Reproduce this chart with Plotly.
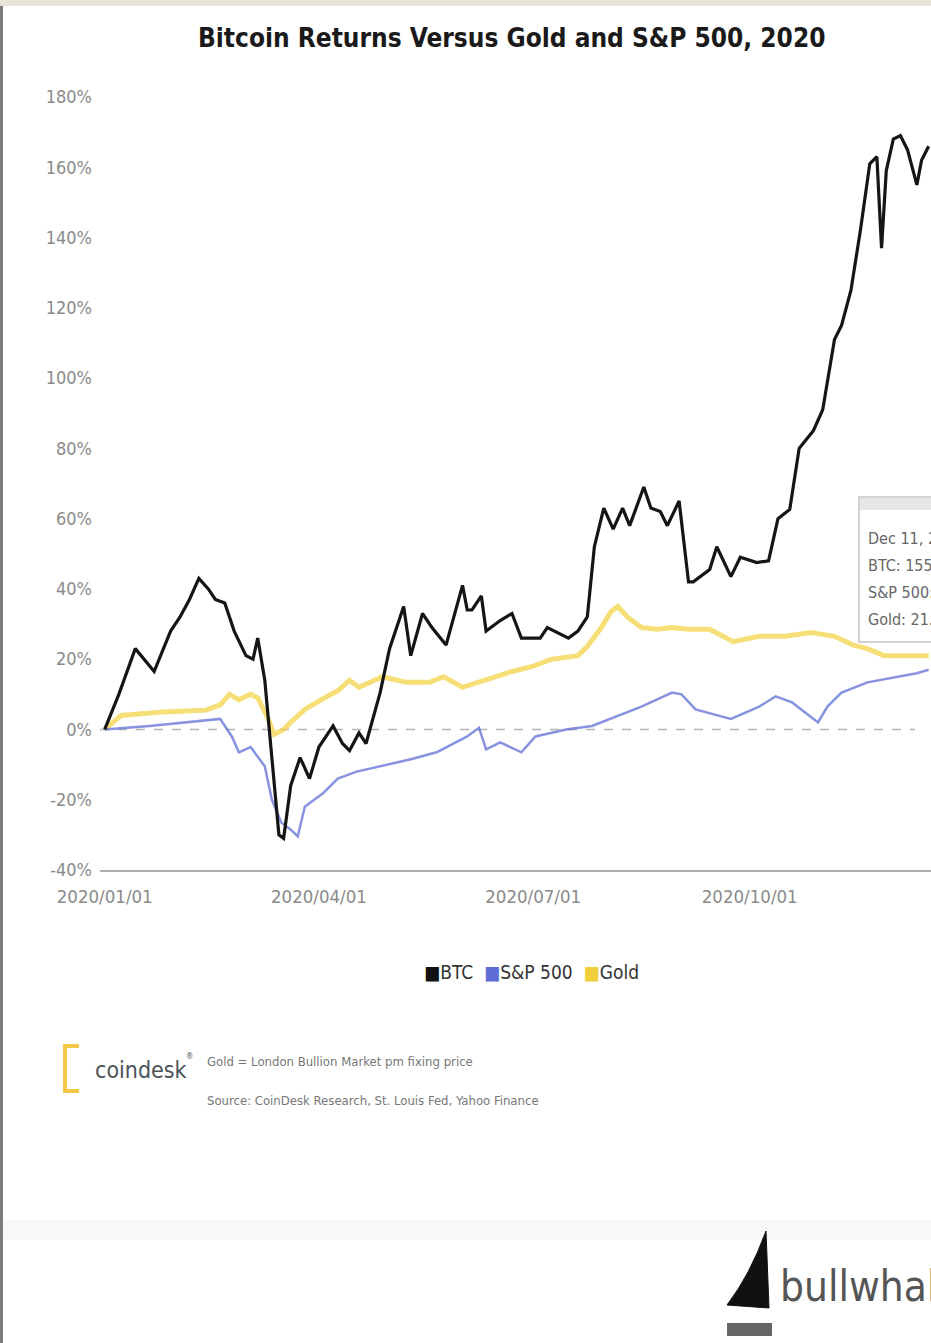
import plotly.graph_objects as go

# ---------------- data ----------------
btc_dates = ["2020-01-01","2020-01-07","2020-01-14","2020-01-20","2020-01-22","2020-01-29",
             "2020-02-02","2020-02-06","2020-02-10","2020-02-14","2020-02-17","2020-02-21",
             "2020-02-25","2020-03-01","2020-03-04","2020-03-06","2020-03-09","2020-03-12",
             "2020-03-15","2020-03-17","2020-03-20","2020-03-24","2020-03-28","2020-04-01",
             "2020-04-07","2020-04-11","2020-04-14","2020-04-18","2020-04-21","2020-04-27",
             "2020-05-01","2020-05-07","2020-05-10","2020-05-15","2020-05-19","2020-05-25",
             "2020-06-01","2020-06-03","2020-06-05","2020-06-09","2020-06-11","2020-06-17",
             "2020-06-22","2020-06-26","2020-07-04","2020-07-07","2020-07-16","2020-07-20",
             "2020-07-24","2020-07-27","2020-07-28","2020-07-31","2020-08-04","2020-08-08",
             "2020-08-11","2020-08-17","2020-08-20","2020-08-24","2020-08-27","2020-09-01",
             "2020-09-05","2020-09-07","2020-09-14","2020-09-17","2020-09-23","2020-09-27",
             "2020-10-04","2020-10-09","2020-10-13","2020-10-18","2020-10-22","2020-10-28",
             "2020-11-01","2020-11-06","2020-11-09","2020-11-13","2020-11-17","2020-11-19",
             "2020-11-21","2020-11-24","2020-11-26","2020-11-28","2020-12-01","2020-12-04",
             "2020-12-07","2020-12-11","2020-12-13","2020-12-16"]
btc_values = [0, 10, 23, 18, 16.5, 28,
              32, 37, 43, 40, 37, 36,
              28, 21, 20, 26, 14, -8,
              -30, -31, -16, -8, -14, -5,
              1, -4, -6, -1, -4, 10.5,
              23, 35, 21, 33, 29, 24,
              41, 34, 34, 38, 28, 31,
              33, 26, 26, 29, 26, 28,
              32, 52, 55, 63, 57, 63,
              58, 69, 63, 62, 58, 65,
              42, 42, 45.5, 52, 43.5, 49,
              47.5, 48, 60, 62.6, 80, 85,
              91, 111, 115, 125, 142, 151,
              161, 163, 137, 159, 168, 169,
              165, 155, 162, 166]

spx_dates = ["2020-01-01","2020-01-20","2020-02-19","2020-02-24","2020-02-27","2020-03-03",
             "2020-03-09","2020-03-12","2020-03-16","2020-03-20","2020-03-23","2020-03-26",
             "2020-04-03","2020-04-09","2020-04-17","2020-04-27","2020-05-10","2020-05-21",
             "2020-05-29","2020-06-03","2020-06-08","2020-06-11","2020-06-17","2020-06-26",
             "2020-07-02","2020-07-15","2020-07-26","2020-08-05","2020-08-16","2020-08-29",
             "2020-09-02","2020-09-08","2020-09-23","2020-10-05","2020-10-12","2020-10-19",
             "2020-10-27","2020-10-30","2020-11-03","2020-11-09","2020-11-20","2020-12-04",
             "2020-12-11","2020-12-16"]
spx_values = [0, 1, 3, -2, -6.5, -5,
              -10.5, -20, -26.5, -28.5, -30.4, -22,
              -18, -14, -12, -10.5, -8.5, -6.5,
              -3.7, -2, 0.5, -5.7, -3.7, -6.5,
              -2, 0, 1, 3.7, 6.5, 10.5,
              10, 5.7, 3, 6.5, 9.4, 7.7,
              3.7, 2, 6.5, 10.5, 13.4, 15,
              16, 17]

gold_dates = ["2020-01-01","2020-01-08","2020-01-26","2020-02-13","2020-02-19","2020-02-23",
              "2020-02-27","2020-03-03","2020-03-06","2020-03-10","2020-03-13","2020-03-17",
              "2020-03-20","2020-03-26","2020-04-02","2020-04-09","2020-04-14","2020-04-18",
              "2020-04-28","2020-05-08","2020-05-18","2020-05-24","2020-06-01","2020-06-10",
              "2020-06-22","2020-07-01","2020-07-09","2020-07-20","2020-07-24","2020-07-30",
              "2020-08-03","2020-08-06","2020-08-10","2020-08-16","2020-08-23","2020-08-29",
              "2020-09-05","2020-09-14","2020-09-24","2020-10-05","2020-10-16","2020-10-27",
              "2020-11-06","2020-11-14","2020-11-20","2020-11-27","2020-12-03","2020-12-11",
              "2020-12-16"]
gold_values = [0, 4, 5, 5.5, 7, 10,
               8.5, 10, 9, 3.7, -1.4, 0,
               2, 5.7, 8.5, 11, 14, 12,
               15, 13.4, 13.4, 15, 12, 14,
               16.5, 18, 20, 21, 23.6, 29,
               33.5, 35, 32, 29, 28.5, 29,
               28.5, 28.5, 25, 26.5, 26.5, 27.6,
               26.5, 24, 23, 21, 21, 21,
               21]

y_ticks = [-40, -20, 0, 20, 40, 60, 80, 100, 120, 140, 160, 180]
y_tick_text = [f"{v}%" for v in y_ticks]
x_tick_dates = ["2020-01-01", "2020-04-01", "2020-07-01", "2020-10-01"]
x_tick_text = ["2020/01/01", "2020/04/01", "2020/07/01", "2020/10/01"]
series_names = ["BTC", "S&P 500", "Gold"]
tooltip_lines = ["Dec 11, 2020", "BTC: 155.12%", "S&P 500: 16.04%", "Gold: 21.08%"]

# ---------------- layout geometry ----------------
W, H = 931, 1343
L, R, T, B = 100, 0, 94, 473
PW, PH = W - L - R, H - T - B

def px(x):
    return (x - L) / PW

def py(y):
    return (H - B - y) / PH

NARROW = "DejaVu Sans Condensed, Liberation Sans, sans-serif"

fig = go.Figure()
fig.add_trace(go.Scatter(x=gold_dates, y=gold_values, mode="lines", name=series_names[2],
                         line=dict(color="rgba(242,210,60,0.7)", width=5), showlegend=False))
fig.add_trace(go.Scatter(x=spx_dates, y=spx_values, mode="lines", name=series_names[1],
                         line=dict(color="rgba(95,110,215,0.75)", width=2.5), showlegend=False))
fig.add_trace(go.Scatter(x=btc_dates, y=btc_values, mode="lines", name=series_names[0],
                         line=dict(color="#151515", width=3.2), showlegend=False))

shapes = [
    # zero dashed line
    dict(type="line", xref="paper", yref="y", x0=0, x1=px(915), y0=0, y1=0,
         line=dict(color="#b5b5b5", width=1.5, dash="dash"), layer="below"),
    # page frame: top beige strip and left dark border
    dict(type="rect", xref="paper", yref="paper", x0=px(0), x1=px(W), y0=py(0), y1=py(6),
         fillcolor="#e8e4da", line=dict(width=0)),
    dict(type="rect", xref="paper", yref="paper", x0=px(0), x1=px(3), y0=py(6), y1=py(H),
         fillcolor="#7a7a7a", line=dict(width=0)),
    # faint band near bottom
    dict(type="rect", xref="paper", yref="paper", x0=px(3), x1=px(W), y0=py(1220), y1=py(1240),
         fillcolor="#f8f8f8", line=dict(width=0), layer="below"),
    # tooltip box
    dict(type="rect", xref="paper", yref="paper", x0=px(859), x1=px(W + 60), y0=py(497), y1=py(642),
         fillcolor="white", line=dict(color="#c4c4c4", width=1.5)),
    dict(type="rect", xref="paper", yref="paper", x0=px(860), x1=px(W + 60), y0=py(498), y1=py(510),
         fillcolor="#e6e6e6", line=dict(width=0)),
    # coindesk bracket
    dict(type="path", xref="paper", yref="paper",
         path=f"M {px(79)} {py(1046)} L {px(65)} {py(1046)} L {px(65)} {py(1091)} L {px(79)} {py(1091)}",
         line=dict(color="#f3c747", width=4)),
    # bullwhale fin
    dict(type="path", xref="paper", yref="paper",
         path=(f"M {px(766)} {py(1231)} L {px(769)} {py(1308)} L {px(727)} {py(1305)} "
               f"Q {px(750)} {py(1275)} {px(766)} {py(1231)} Z"),
         fillcolor="#111111", line=dict(color="#111111", width=1)),
    dict(type="rect", xref="paper", yref="paper", x0=px(727), x1=px(772), y0=py(1323), y1=py(1336),
         fillcolor="#666666", line=dict(width=0)),
]

annotations = [
    dict(text="<b>Bitcoin Returns Versus Gold and S&amp;P 500, 2020</b>", xref="paper", yref="paper",
         x=px(511), y=py(38), xanchor="center", yanchor="middle", showarrow=False,
         font=dict(family=NARROW, size=26, color="#1a1a1a")),
    dict(text=(f"<span style='color:#111'>■</span>{series_names[0]}  "
               f"<span style='color:#5f6ed7'>■</span>{series_names[1]}  "
               f"<span style='color:#f0cf3a'>■</span>{series_names[2]}"),
         xref="paper", yref="paper", x=px(531), y=py(972), xanchor="center", yanchor="middle",
         showarrow=False, font=dict(family=NARROW, size=19, color="#333333")),
    dict(text="coindesk", xref="paper", yref="paper", x=px(93), y=py(1070), xanchor="left",
         yanchor="middle", showarrow=False, font=dict(family=NARROW, size=23, color="#4a5358")),
    dict(text="®", xref="paper", yref="paper", x=px(184), y=py(1056), xanchor="left",
         yanchor="middle", showarrow=False, font=dict(family=NARROW, size=8, color="#4a5358")),
    dict(text="Gold = London Bullion Market pm fixing price", xref="paper", yref="paper",
         x=px(205), y=py(1061), xanchor="left", yanchor="middle", showarrow=False,
         font=dict(family=NARROW, size=13, color="#777777")),
    dict(text="Source: CoinDesk Research, St. Louis Fed, Yahoo Finance", xref="paper", yref="paper",
         x=px(205), y=py(1100), xanchor="left", yanchor="middle", showarrow=False,
         font=dict(family=NARROW, size=13, color="#777777")),
    dict(text="bullwhale", xref="paper", yref="paper", x=px(778), y=py(1286), xanchor="left",
         yanchor="middle", showarrow=False, font=dict(family=NARROW, size=42, color="#555555")),
]
for i, line in enumerate(tooltip_lines):
    annotations.append(dict(text=line, xref="paper", yref="paper", x=px(866), y=py(538 + 27 * i),
                            xanchor="left", yanchor="middle", showarrow=False,
                            font=dict(family=NARROW, size=16, color="#666666")))

fig.update_layout(
    width=W, height=H,
    margin=dict(l=L, r=R, t=T, b=B, pad=0),
    paper_bgcolor="white", plot_bgcolor="white",
    showlegend=False,
    hovermode=False,
    shapes=shapes,
    annotations=annotations,
    xaxis=dict(type="date", range=["2019-12-30", "2020-12-17"],
               tickvals=x_tick_dates, ticktext=x_tick_text,
               showgrid=False, zeroline=False, showline=True, linecolor="#b0b0b0", linewidth=2,
               ticks="", ticklabelstandoff=9,
               tickfont=dict(family=NARROW, size=18.5, color="#8a8a8a")),
    yaxis=dict(range=[-40, 180.85], tickvals=y_ticks, ticktext=y_tick_text,
               showgrid=False, zeroline=False, showline=False, ticks="", ticklabelstandoff=7,
               tickfont=dict(family=NARROW, size=18, color="#8a8a8a")),
)

fig.write_html("out.html", config={"displayModeBar": False},
               post_script="document.body.style.margin='0px';document.body.style.overflow='hidden';")
